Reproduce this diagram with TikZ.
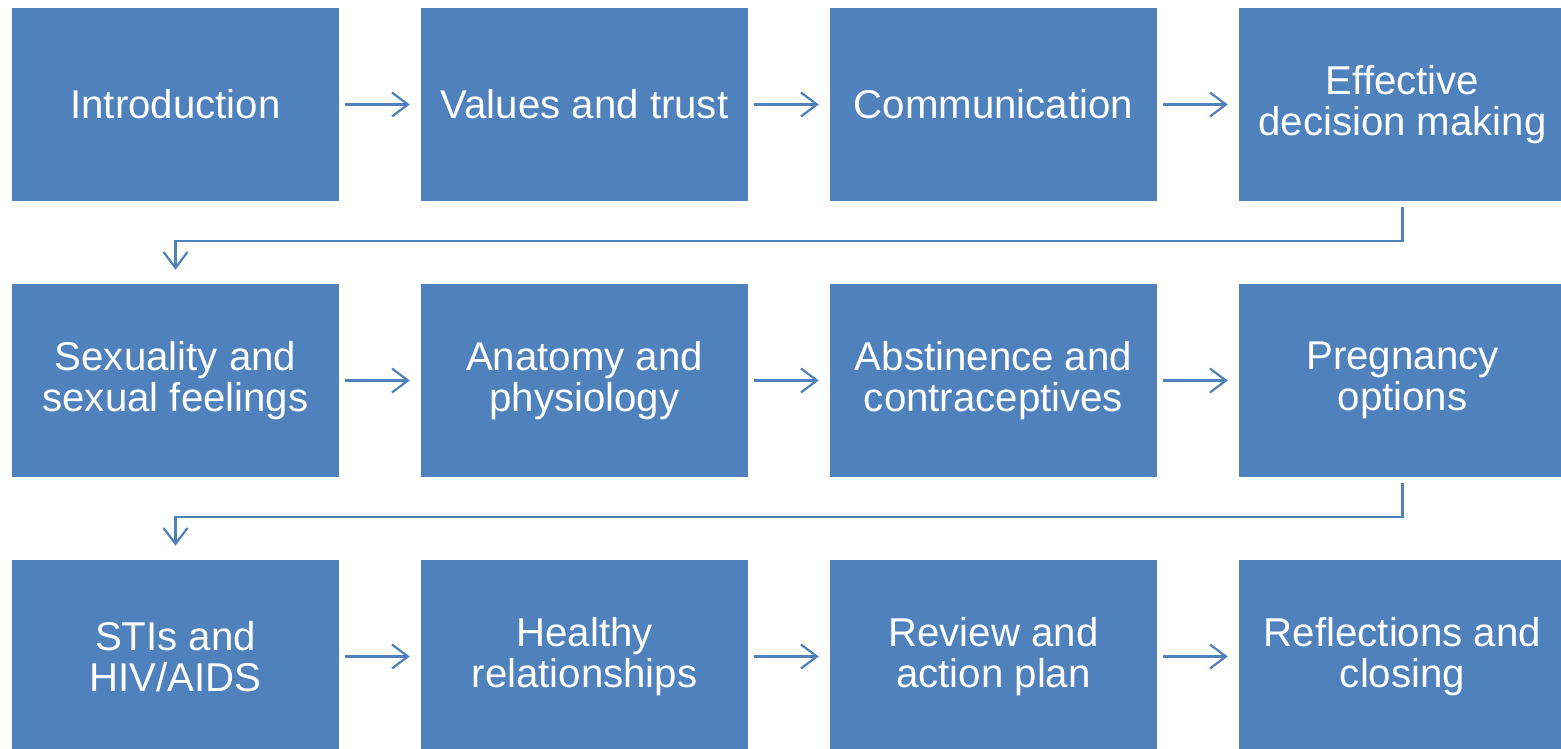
\documentclass[tikz,border=0pt]{standalone}
\usepackage{fontspec}
\setmainfont{Liberation Sans}
\usetikzlibrary{arrows.meta}
\definecolor{boxblue}{HTML}{4F81BD}

\begin{document}
\begin{tikzpicture}[x=1pt, y=-1pt,
  topic/.style={fill=boxblue, draw=none, text=white, minimum width=327pt, minimum height=193pt, inner sep=0pt, align=center, font=\fontsize{40.2}{41}\selectfont},
  flow/.style={draw=boxblue, line width=2.2pt, -{Straight Barb[length=16pt, width=24pt, line width=2.2pt]}, shorten <=6pt, shorten >=11pt}]
\useasboundingbox (0,0) rectangle (1561,748);
\node[topic] (intro) at (175.5, 104.5) {Introduction};
\node[topic] (values) at (584.5, 104.5) {Values and trust};
\node[topic] (comm) at (993.5, 104.5) {Communication};
\node[topic] (decide) at (1402.5, 104.5) {Effective\\decision making};
\node[topic] (sexual) at (175.5, 380.5) {Sexuality and\\sexual feelings};
\node[topic] (anatomy) at (584.5, 380.5) {Anatomy and\\physiology};
\node[topic] (abstain) at (993.5, 380.5) {Abstinence and\\contraceptives};
\node[topic] (preg) at (1402.5, 380.5) {Pregnancy\\options};
\node[topic] (sti) at (175.5, 656.5) {STIs and\\HIV/AIDS};
\node[topic] (healthy) at (584.5, 656.5) {Healthy\\relationships};
\node[topic] (review) at (993.5, 656.5) {Review and\\action plan};
\node[topic] (reflect) at (1402.5, 656.5) {Reflections and\\closing};
% first row
\draw[flow] (intro) -- (values);
\draw[flow] (values) -- (comm);
\draw[flow] (comm) -- (decide);
\draw[flow, shorten >=14pt] (decide.south) -- ++(0,40) -| (sexual.north);
% second row
\draw[flow] (sexual) -- (anatomy);
\draw[flow] (anatomy) -- (abstain);
\draw[flow] (abstain) -- (preg);
\draw[flow, shorten >=14pt] (preg.south) -- ++(0,40) -| (sti.north);
% third row
\draw[flow] (sti) -- (healthy);
\draw[flow] (healthy) -- (review);
\draw[flow] (review) -- (reflect);
\end{tikzpicture}
\end{document}
